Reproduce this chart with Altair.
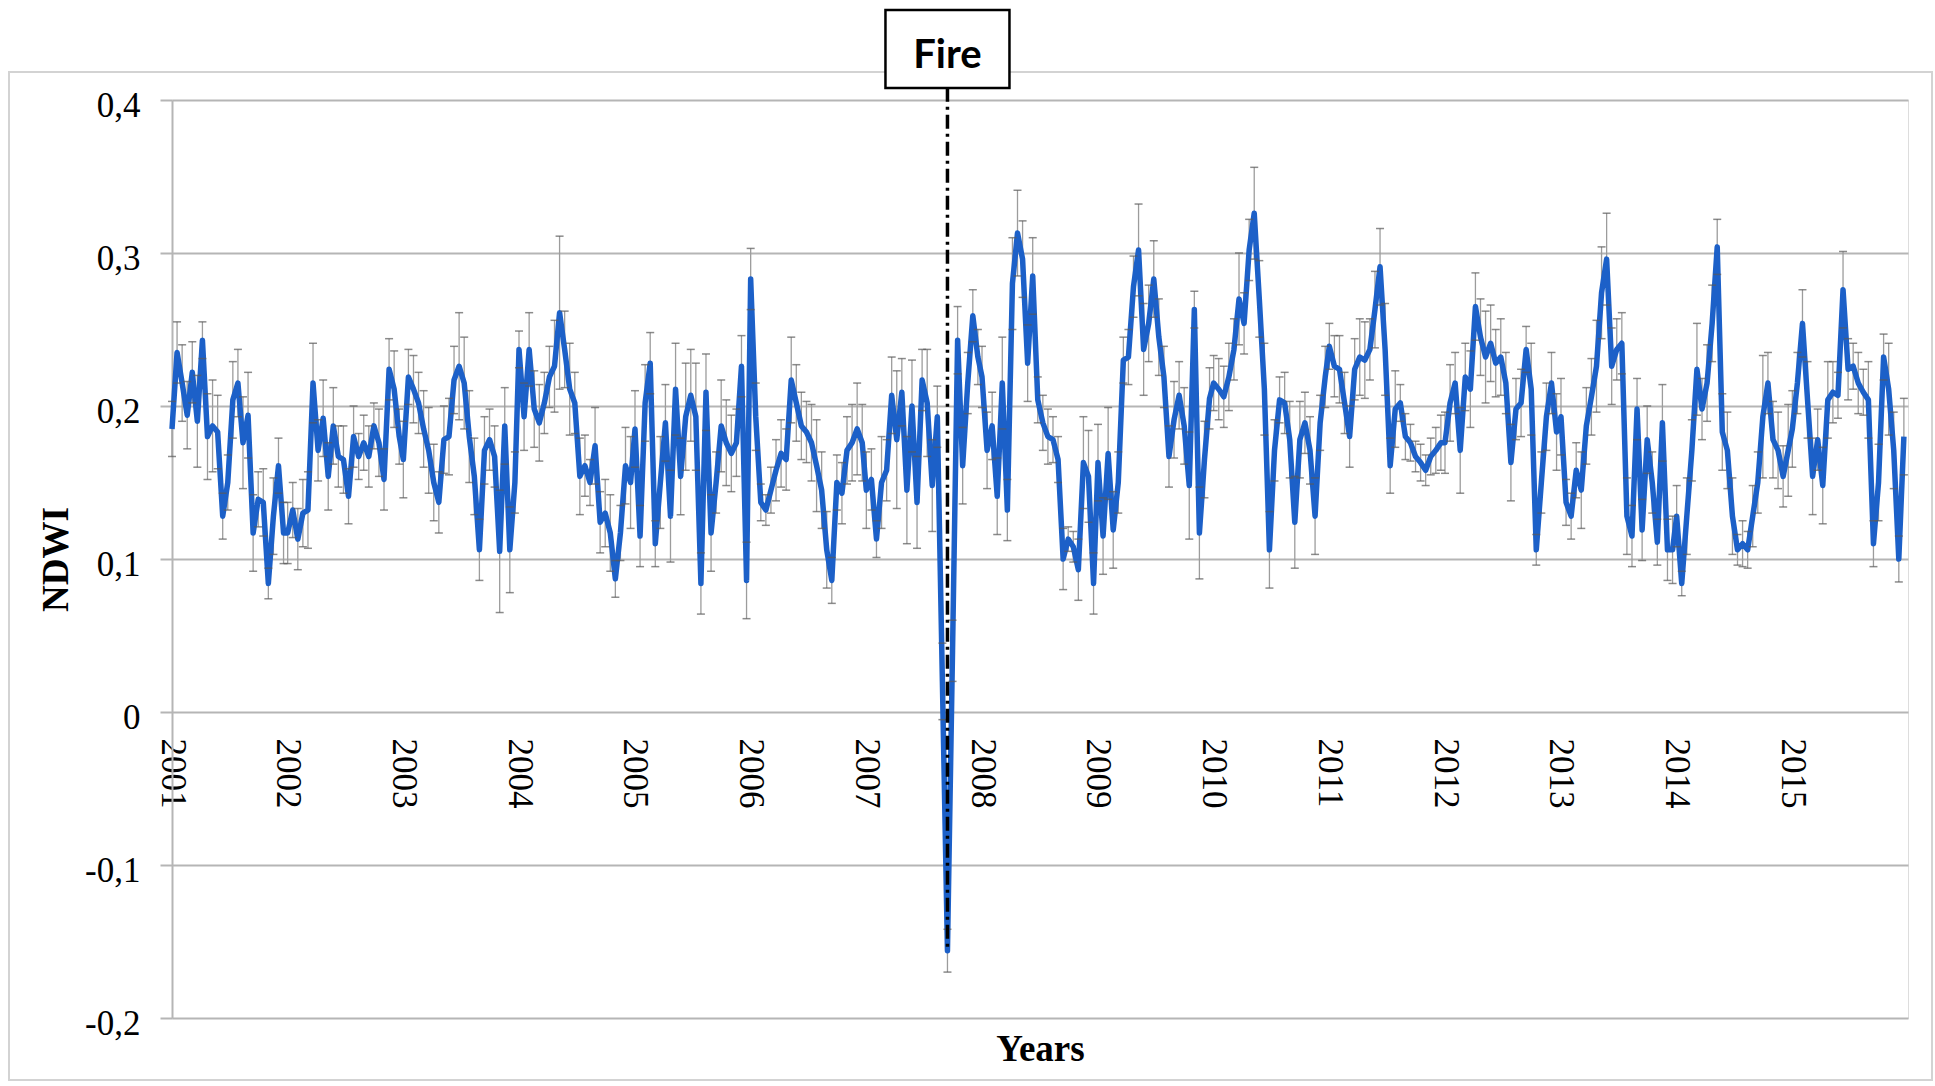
import altair as alt
import pandas as pd

# Mean NDWI of the burned area, MODIS 16-day composites (23 per year)
composite_doy = [1, 17, 33, 49, 65, 81, 97, 113, 129, 145, 161, 177,
                 193, 209, 225, 241, 257, 273, 289, 305, 321, 337, 353]

ndwi_2001 = [0.185, 0.235, 0.215, 0.194, 0.222, 0.190, 0.243, 0.180, 0.187, 0.183, 0.128, 0.150,
             0.204, 0.215, 0.176, 0.194, 0.117, 0.139, 0.137, 0.084, 0.128, 0.161, 0.117]
ndwi_2002 = [0.117, 0.132, 0.113, 0.130, 0.132, 0.215, 0.171, 0.192, 0.154, 0.187, 0.167, 0.165,
             0.141, 0.180, 0.167, 0.176, 0.167, 0.187, 0.176, 0.152, 0.224, 0.211, 0.180]
ndwi_2003 = [0.165, 0.219, 0.211, 0.202, 0.185, 0.171, 0.150, 0.137, 0.178, 0.180, 0.217, 0.226,
             0.215, 0.180, 0.154, 0.106, 0.171, 0.178, 0.167, 0.105, 0.187, 0.106, 0.150]
ndwi_2004 = [0.237, 0.193, 0.237, 0.198, 0.189, 0.202, 0.219, 0.226, 0.261, 0.237, 0.211, 0.202,
             0.154, 0.161, 0.150, 0.174, 0.124, 0.130, 0.117, 0.087, 0.117, 0.161, 0.150]
ndwi_2005 = [0.185, 0.115, 0.202, 0.228, 0.110, 0.150, 0.189, 0.128, 0.211, 0.154, 0.193, 0.207,
             0.193, 0.084, 0.209, 0.117, 0.150, 0.187, 0.176, 0.169, 0.176, 0.226, 0.086]
ndwi_2006 = [0.283, 0.193, 0.137, 0.132, 0.145, 0.158, 0.169, 0.165, 0.217, 0.202, 0.187, 0.183,
             0.176, 0.161, 0.145, 0.106, 0.086, 0.150, 0.143, 0.171, 0.176, 0.185, 0.176]
ndwi_2007 = [0.145, 0.152, 0.113, 0.150, 0.158, 0.207, 0.178, 0.209, 0.145, 0.200, 0.137, 0.217,
             0.202, 0.148, 0.193, 0.020, -0.156, 0.040, 0.243, 0.161, 0.215, 0.259, 0.232]
ndwi_2008 = [0.219, 0.171, 0.187, 0.141, 0.215, 0.132, 0.280, 0.313, 0.296, 0.228, 0.285, 0.204,
             0.189, 0.180, 0.178, 0.165, 0.100, 0.113, 0.108, 0.093, 0.163, 0.154, 0.084]
ndwi_2009 = [0.163, 0.115, 0.169, 0.119, 0.150, 0.230, 0.232, 0.278, 0.302, 0.237, 0.254, 0.283,
             0.245, 0.219, 0.167, 0.191, 0.207, 0.187, 0.148, 0.263, 0.117, 0.165, 0.205]
ndwi_2010 = [0.215, 0.211, 0.206, 0.219, 0.237, 0.270, 0.254, 0.302, 0.326, 0.270, 0.211, 0.106,
             0.171, 0.204, 0.202, 0.178, 0.124, 0.178, 0.189, 0.171, 0.128, 0.189, 0.219]
ndwi_2011 = [0.239, 0.226, 0.224, 0.202, 0.180, 0.224, 0.232, 0.230, 0.237, 0.263, 0.291, 0.237,
             0.161, 0.198, 0.202, 0.180, 0.176, 0.167, 0.163, 0.158, 0.167, 0.171, 0.176]
ndwi_2012 = [0.176, 0.202, 0.215, 0.171, 0.219, 0.211, 0.265, 0.245, 0.232, 0.241, 0.228, 0.232,
             0.215, 0.163, 0.198, 0.202, 0.237, 0.211, 0.106, 0.150, 0.193, 0.215, 0.183]
ndwi_2013 = [0.193, 0.137, 0.128, 0.158, 0.145, 0.187, 0.206, 0.226, 0.274, 0.296, 0.226, 0.237,
             0.241, 0.128, 0.115, 0.198, 0.119, 0.178, 0.150, 0.111, 0.189, 0.106, 0.106]
ndwi_2014 = [0.128, 0.084, 0.128, 0.171, 0.224, 0.198, 0.215, 0.254, 0.304, 0.183, 0.171, 0.128,
             0.106, 0.110, 0.106, 0.128, 0.150, 0.193, 0.215, 0.178, 0.171, 0.154, 0.171]
ndwi_2015 = [0.185, 0.215, 0.254, 0.204, 0.154, 0.178, 0.148, 0.204, 0.209, 0.207, 0.276, 0.224,
             0.226, 0.215, 0.209, 0.204, 0.110, 0.150, 0.232, 0.211, 0.171, 0.100, 0.180]

# Standard deviation of each composite (error bars)
err_2001 = [0.018, 0.020, 0.025, 0.022, 0.020, 0.030, 0.012, 0.028, 0.030, 0.024, 0.015, 0.018,
            0.025, 0.022, 0.030, 0.028, 0.025, 0.018, 0.022, 0.010, 0.025, 0.018, 0.020]
err_2002 = [0.020, 0.018, 0.020, 0.022, 0.025, 0.026, 0.020, 0.025, 0.022, 0.025, 0.020, 0.022,
            0.018, 0.020, 0.015, 0.018, 0.020, 0.015, 0.022, 0.020, 0.020, 0.025, 0.018]
err_2003 = [0.025, 0.018, 0.022, 0.020, 0.025, 0.028, 0.025, 0.020, 0.022, 0.025, 0.022, 0.035,
            0.030, 0.030, 0.025, 0.020, 0.022, 0.020, 0.020, 0.040, 0.025, 0.028, 0.020]
err_2004 = [0.012, 0.022, 0.024, 0.025, 0.025, 0.020, 0.020, 0.030, 0.050, 0.025, 0.030, 0.020,
            0.025, 0.020, 0.015, 0.025, 0.020, 0.022, 0.025, 0.012, 0.018, 0.025, 0.030]
err_2005 = [0.025, 0.020, 0.025, 0.020, 0.015, 0.030, 0.025, 0.030, 0.030, 0.025, 0.035, 0.030,
            0.035, 0.020, 0.025, 0.025, 0.020, 0.030, 0.028, 0.025, 0.022, 0.020, 0.025]
err_2006 = [0.020, 0.022, 0.012, 0.010, 0.015, 0.020, 0.022, 0.020, 0.028, 0.025, 0.022, 0.020,
            0.025, 0.030, 0.025, 0.025, 0.015, 0.018, 0.020, 0.022, 0.025, 0.030, 0.025]
err_2007 = [0.025, 0.020, 0.012, 0.030, 0.020, 0.025, 0.045, 0.022, 0.035, 0.030, 0.030, 0.020,
            0.035, 0.030, 0.020, 0.025, 0.014, 0.020, 0.022, 0.025, 0.020, 0.017, 0.018]
err_2008 = [0.020, 0.025, 0.022, 0.025, 0.030, 0.020, 0.030, 0.028, 0.025, 0.025, 0.025, 0.015,
            0.018, 0.018, 0.015, 0.015, 0.020, 0.008, 0.010, 0.020, 0.030, 0.030, 0.020]
err_2009 = [0.025, 0.025, 0.030, 0.025, 0.020, 0.015, 0.018, 0.020, 0.030, 0.030, 0.025, 0.025,
            0.025, 0.020, 0.020, 0.025, 0.022, 0.025, 0.035, 0.012, 0.030, 0.025, 0.020]
err_2010 = [0.018, 0.020, 0.020, 0.022, 0.020, 0.030, 0.020, 0.020, 0.030, 0.025, 0.030, 0.025,
            0.020, 0.015, 0.020, 0.025, 0.030, 0.025, 0.020, 0.022, 0.025, 0.018, 0.020]
err_2011 = [0.015, 0.020, 0.022, 0.020, 0.020, 0.020, 0.025, 0.025, 0.020, 0.025, 0.025, 0.030,
            0.018, 0.025, 0.012, 0.015, 0.012, 0.010, 0.012, 0.010, 0.012, 0.015, 0.018]
err_2012 = [0.020, 0.025, 0.020, 0.028, 0.022, 0.025, 0.022, 0.025, 0.030, 0.025, 0.022, 0.025,
            0.020, 0.025, 0.020, 0.022, 0.015, 0.030, 0.010, 0.020, 0.022, 0.020, 0.025]
err_2013 = [0.025, 0.015, 0.015, 0.018, 0.025, 0.025, 0.025, 0.030, 0.030, 0.030, 0.025, 0.020,
            0.020, 0.025, 0.020, 0.020, 0.020, 0.022, 0.020, 0.015, 0.025, 0.020, 0.022]
err_2014 = [0.020, 0.008, 0.025, 0.020, 0.030, 0.020, 0.025, 0.025, 0.018, 0.025, 0.025, 0.025,
            0.010, 0.015, 0.012, 0.020, 0.020, 0.040, 0.020, 0.025, 0.025, 0.020, 0.030]
err_2015 = [0.025, 0.020, 0.022, 0.025, 0.025, 0.020, 0.025, 0.025, 0.020, 0.015, 0.025, 0.020,
            0.015, 0.020, 0.015, 0.025, 0.015, 0.025, 0.015, 0.030, 0.025, 0.015, 0.025]

year_labels = list(range(2001, 2016))
ndwi_by_year = [ndwi_2001, ndwi_2002, ndwi_2003, ndwi_2004, ndwi_2005, ndwi_2006, ndwi_2007,
                ndwi_2008, ndwi_2009, ndwi_2010, ndwi_2011, ndwi_2012, ndwi_2013, ndwi_2014,
                ndwi_2015]
err_by_year = [err_2001, err_2002, err_2003, err_2004, err_2005, err_2006, err_2007, err_2008,
               err_2009, err_2010, err_2011, err_2012, err_2013, err_2014, err_2015]

rows = []
for year, vals, errs in zip(year_labels, ndwi_by_year, err_by_year):
    for doy, v, e in zip(composite_doy, vals, errs):
        date = pd.Timestamp(year=year, month=1, day=1) + pd.Timedelta(days=doy - 1)
        rows.append({"date": date, "ndwi": v, "lo": v - e, "hi": v + e})
df = pd.DataFrame(rows)

# the fire is marked at the composite with the lowest NDWI
fire_df = df.loc[[df["ndwi"].idxmin()], ["date"]].reset_index(drop=True)

SERIF = "Liberation Serif"
GRID = "#b5b5b5"
BLUE = "#1c60c8"
W, H = 1736, 918

x_axis = alt.Axis(
    values=[alt.DateTime(year=y, month=1, date=1) for y in year_labels],
    format="%Y", labelAngle=90, labelFont=SERIF, labelFontSize=35, labelColor="black",
    labelPadding=26, ticks=False, domain=False, grid=False, offset=-306,
    title="Years", titleFont=SERIF, titleFontSize=37, titleFontWeight="bold",
    titleColor="black", titleY=337, titleBaseline="middle",
)
y_axis = alt.Axis(
    values=[-0.2, -0.1, 0, 0.1, 0.2, 0.3, 0.4],
    labelExpr="replace(toString(datum.value), '.', ',')",
    labelFont=SERIF, labelFontSize=35, labelColor="black", labelPadding=20, labelOffset=5,
    tickSize=12, tickColor=GRID, tickWidth=2, domainColor=GRID, domainWidth=2,
    grid=True, gridColor=GRID, gridWidth=2,
    title="NDWI", titleFont=SERIF, titleFontSize=37, titleFontWeight="bold",
    titleColor="black", titleAngle=-90, titleX=-116, titleY=H / 2,
    titleBaseline="middle", titleAlign="center",
)

x_scale = alt.Scale(domain=[alt.DateTime(year=2001, month=1, date=1),
                            alt.DateTime(year=2016, month=1, date=1)])
y_scale = alt.Scale(domain=[-0.2, 0.4], nice=False, zero=False)

X = alt.X("date:T", scale=x_scale, axis=x_axis)
Y = alt.Y("ndwi:Q", scale=y_scale, axis=y_axis)

base = alt.Chart(df)

# light outer frame around the whole figure
frame = alt.Chart(fire_df).mark_rect(fill=None, stroke="#d3d3d3", strokeWidth=2).encode(
    x=alt.value(-163), x2=alt.value(1760), y=alt.value(-28), y2=alt.value(980)
)

stems = base.mark_rule(color="#9c9c9c", strokeWidth=1.3).encode(
    x=X, y=alt.Y("lo:Q", scale=y_scale, axis=y_axis), y2="hi:Q"
)
line = base.mark_line(color=BLUE, strokeWidth=5.5, strokeJoin="round").encode(x=X, y=Y)
caps_lo = base.mark_tick(orient="horizontal", size=8, thickness=1.5, color="#5a5a5a").encode(
    x=X, y=alt.Y("lo:Q", scale=y_scale, axis=y_axis)
)
caps_hi = base.mark_tick(orient="horizontal", size=8, thickness=1.5, color="#5a5a5a").encode(
    x=X, y=alt.Y("hi:Q", scale=y_scale, axis=y_axis)
)

fire_line = alt.Chart(fire_df).mark_rule(
    color="black", strokeWidth=3.5, strokeDash=[14, 5, 3, 5]
).encode(x=X, y=alt.datum(0.408), y2=alt.datum(-0.155))

fire_box = alt.Chart(fire_df).mark_rect(
    fill="white", stroke="black", strokeWidth=2.5, xOffset=-62, x2Offset=62
).encode(x=X, x2="date:T", y=alt.value(-90), y2=alt.value(-12))

fire_text = alt.Chart(fire_df).mark_text(
    text="Fire", font="Lato", fontWeight="bold", fontSize=40, color="black",
    baseline="middle", align="center"
).encode(x=X, y=alt.value(-44))

chart = alt.layer(
    frame, stems, line, caps_lo, caps_hi, fire_line, fire_box, fire_text
).properties(
    width=W, height=H,
    padding={"left": 172, "top": 100, "right": 27, "bottom": 68},
    autosize="none",
).configure_view(stroke=None).configure(background="white")

chart.save("out.html", embed_options={"renderer": "svg", "actions": False})
